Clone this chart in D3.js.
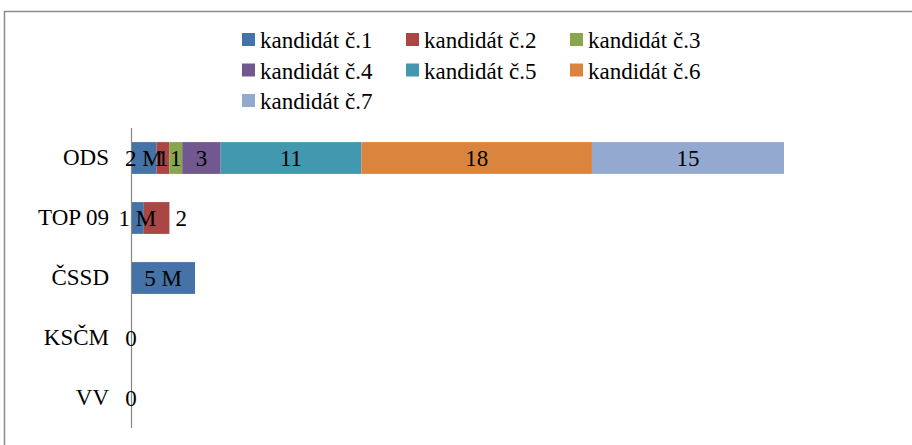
<!DOCTYPE html>
<html>
<head>
<meta charset="utf-8">
<script src="https://cdn.jsdelivr.net/npm/d3@7"></script>
<style>
  html, body { margin: 0; padding: 0; background: #fff; }
  svg { display: block; font-family: "Liberation Serif", "Times New Roman", serif; }
</style>
</head>
<body>
<div id="chart"></div>
<script>
// Parties (rows, top to bottom)
const categories = ['ODS', 'TOP 09', 'ČSSD', 'KSČM', 'VV'];

// Series names
const seriesNames = ['kandidát č.1', 'kandidát č.2', 'kandidát č.3', 'kandidát č.4',
                     'kandidát č.5', 'kandidát č.6', 'kandidát č.7'];

// Values per candidate, one entry per party
const cand1 = [2, 1, 5, 0, 0];
const cand2 = [1, 2, 0, 0, 0];
const cand3 = [1, 0, 0, 0, 0];
const cand4 = [3, 0, 0, 0, 0];
const cand5 = [11, 0, 0, 0, 0];
const cand6 = [18, 0, 0, 0, 0];
const cand7 = [15, 0, 0, 0, 0];

// extra text appended to the first candidate's label
const cand1Suffix = ['M', 'M', 'M', '', ''];

const colors = ['#4572A7', '#AA4643', '#89A54E', '#71588F', '#4198AF', '#DB843D', '#93A9CF'];

const W = 912, H = 445;
const fontSize = 23;

const svg = d3.select('#chart').append('svg')
    .attr('width', W)
    .attr('height', H);

// chart frame
svg.append('rect')
    .attr('x', 4.5).attr('y', 11.5)
    .attr('width', W + 20).attr('height', H + 20)
    .attr('fill', '#fff')
    .attr('stroke', '#8c8c8c')
    .attr('stroke-width', 1.5);

const allSeries = [cand1, cand2, cand3, cand4, cand5, cand6, cand7];

// rows as objects for d3.stack
const rows = categories.map((c, i) => {
    const r = { party: c };
    seriesNames.forEach((s, j) => { r[s] = allSeries[j][i]; });
    return r;
});

const stacked = d3.stack().keys(seriesNames)(rows);
const maxTotal = d3.max(rows, r => d3.sum(seriesNames, s => r[s]));

const x = d3.scaleLinear()
    .domain([0, maxTotal])
    .range([131, 784]);

const y = d3.scaleBand()
    .domain(categories)
    .range([128, 428])
    .paddingInner(0.47)
    .paddingOuter(0.235);

// bars
const layers = svg.append('g').selectAll('g')
    .data(stacked)
    .join('g')
    .attr('fill', (d, i) => colors[i]);

layers.selectAll('rect')
    .data(d => d.map(v => ({ v, party: v.data.party })))
    .join('rect')
    .attr('x', d => x(d.v[0]))
    .attr('y', d => y(d.party))
    .attr('width', d => x(d.v[1]) - x(d.v[0]))
    .attr('height', y.bandwidth());

// value axis line (no ticks)
svg.append('line')
    .attr('x1', x(0) + 0.5).attr('x2', x(0) + 0.5)
    .attr('y1', y.range()[0]).attr('y2', y.range()[1])
    .attr('stroke', '#868686')
    .attr('stroke-width', 1.2);

// category labels
const yAxis = d3.axisLeft(y).tickSize(0).tickPadding(22);
const yg = svg.append('g')
    .attr('transform', `translate(${x(0)},0)`)
    .call(yAxis);
yg.select('.domain').remove();
yg.selectAll('text')
    .attr('font-size', fontSize)
    .attr('font-family', '"Liberation Serif", serif')
    .attr('fill', '#000');

// data labels
const labels = [];
stacked.forEach((layer, j) => {
    layer.forEach((v, i) => {
        const val = allSeries[j][i];
        if (j > 0 && val === 0) return;
        let text = String(val);
        if (j === 0 && cand1Suffix[i]) text += ' ' + cand1Suffix[i];
        labels.push({ text, party: categories[i], x0: v[0], x1: v[1], series: j });
    });
});

svg.append('g').selectAll('text')
    .data(labels)
    .join('text')
    .attr('x', d => {
        // TOP 09 cand. 2 label sits just past the bar end in the original
        if (d.party === 'TOP 09' && d.series === 1) return x(d.x1) + 6;
        return (x(d.x0) + x(d.x1)) / 2;
    })
    .attr('y', d => y(d.party) + y.bandwidth() / 2)
    .attr('dy', '0.35em')
    .attr('text-anchor', d => (d.party === 'TOP 09' && d.series === 1) ? 'start' : 'middle')
    .attr('font-size', fontSize)
    .attr('fill', '#000')
    .text(d => d.text);

// legend: 3 columns
const legend = svg.append('g').attr('transform', 'translate(242,33)');
const item = legend.selectAll('g')
    .data(seriesNames)
    .join('g')
    .attr('transform', (d, i) => `translate(${(i % 3) * 164},${Math.floor(i / 3) * 30.5})`);

item.append('rect')
    .attr('width', 13).attr('height', 13)
    .attr('fill', (d, i) => colors[i]);

item.append('text')
    .attr('x', 18)
    .attr('y', 15)
    .attr('font-size', fontSize)
    .attr('fill', '#000')
    .text(d => d);
</script>
</body>
</html>
